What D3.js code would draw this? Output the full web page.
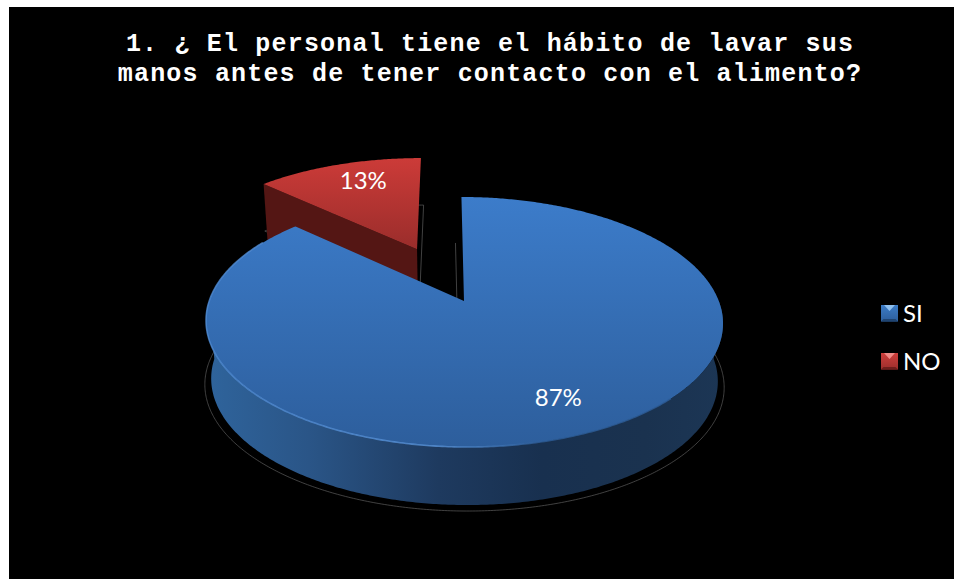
<!DOCTYPE html>
<html>
<head>
<meta charset="utf-8">
<script src="https://cdn.jsdelivr.net/npm/d3@7"></script>
<style>
html,body{margin:0;padding:0;background:#fff;}
svg{display:block;}
</style>
</head>
<body>
<svg id="chart" width="954" height="579"></svg>
<script>
// Survey answers
const categories = ["SI", "NO"];
const shares = [87, 13];
const titleLines = [
  "1. ¿ El personal tiene el hábito de lavar sus",
  "manos antes de tener contacto con el alimento?"
];

const svg = d3.select("#chart");
const defs = svg.append("defs");

function linear(id, x1, y1, x2, y2, stops) {
  const g = defs.append("linearGradient").attr("id", id)
    .attr("x1", x1).attr("y1", y1).attr("x2", x2).attr("y2", y2);
  stops.forEach(([o, c]) => g.append("stop").attr("offset", o).attr("stop-color", c));
}
linear("blueTop", 0, 0, 0, 1, [[0, "#3c7cca"], [1, "#2d5e9c"]]);
linear("redTop", 0, 0, 0, 1, [[0, "#cc3b38"], [1, "#9a2d2b"]]);
linear("blueSide", 0, 0, 1, 0, [[0, "#2f649c"], [0.2, "#2a5587"], [0.45, "#1e3a5f"], [0.65, "#18304f"], [0.85, "#1a324f"], [1, "#1c3655"]]);
linear("blueRim", 0, 0, 1, 0, [[0, "#4f8ad2"], [0.5, "#5a94da"], [0.72, "#2e5f9b"], [1, "#2e5f9b"]]);
linear("legendBlue", 0, 0, 0, 1, [[0, "#3c7cc6"], [1, "#2d5e9c"]]);
linear("legendRed", 0, 0, 0, 1, [[0, "#cf3f3c"], [1, "#9c2e2c"]]);
const soft = defs.append("filter").attr("id", "softRim");
soft.append("feGaussianBlur").attr("stdDeviation", 0.6);

// Black plate behind the chart
svg.append("rect").attr("x", 9).attr("y", 7).attr("width", 945).attr("height", 572).attr("fill", "#000");

// Tilted-disc projection: unit-circle coordinates to screen, nearer points larger
const apex = { x: 464, y: 301 };
const tilt = 0.168, xScale = 254.8, yScale = 121.5, lean = 3, depth = 58, baseScale = 0.98;
function project(u, v, h = 0) {
  const d = 1 - tilt * v;
  const x = (xScale * u + lean * v) / d;
  return [apex.x + (h ? baseScale : 1) * x, apex.y + h + yScale * v / d];
}

const pie = d3.pie().sort(null).value(d => d).startAngle(0).endAngle(2 * Math.PI);
const arcs = pie(shares);

const lineGen = d3.line();
function rimPoints(a0, a1, h, off = [0, 0]) {
  const n = Math.max(2, Math.ceil(Math.abs(a1 - a0) / 0.01));
  return d3.range(n + 1).map(i => {
    const a = a0 + (a1 - a0) * i / n;
    return project(off[0] + Math.sin(a), off[1] - Math.cos(a), h);
  });
}
function wedgePoints(a0, a1, h, off = [0, 0]) {
  return [project(off[0], off[1], h), ...rimPoints(a0, a1, h, off)];
}

const blue = arcs[0], red = arcs[1];
const redMid = (red.startAngle + red.endAngle) / 2;
const explode = 0.48;
const redOff = [explode * Math.sin(redMid), -explode * Math.cos(redMid)];

// Faint drop-shadow contours around the base
const contour = svg.append("g").attr("fill", "none").attr("stroke", "#5c5c5c").attr("stroke-width", 0.7);
contour.append("path")
  .attr("d", lineGen(wedgePoints(red.startAngle, red.endAngle, 45, redOff)) + "Z")
  .attr("transform", "translate(344,0) scale(1.03,1) translate(-345,0)");
contour.append("path")
  .attr("d", lineGen([project(0, -1, 46), project(0, 0, 46)]))
  .attr("transform", "translate(-6,0)");
contour.append("path")
  .attr("transform", "translate(464,0) scale(1.025,1.0) translate(-464,0)")
  .attr("d", lineGen(rimPoints(Math.PI * 0.42, Math.PI * 1.58, 64)));

// NO slice, pulled away from the disc
const red3d = svg.append("g").attr("transform", "translate(-0.5,-2)");
red3d.append("path")
  .attr("d", lineGen([
    project(redOff[0] + Math.sin(red.startAngle), redOff[1] - Math.cos(red.startAngle), 0),
    project(redOff[0], redOff[1], 0),
    project(redOff[0], redOff[1], depth),
    project(redOff[0] + Math.sin(red.startAngle), redOff[1] - Math.cos(red.startAngle), depth)
  ]) + "Z")
  .attr("fill", "#541614");
red3d.append("path")
  .attr("d", lineGen(wedgePoints(red.startAngle, red.endAngle, 0, redOff)) + "Z")
  .attr("fill", "url(#redTop)");

// SI slice: outer wall, then top surface with a lit rim
const leftA = 1.5 * Math.PI, rightA = 0.5 * Math.PI;
const wallTop = rimPoints(rightA, leftA, 0);
const wallBottom = rimPoints(leftA, rightA, depth);
svg.append("path")
  .attr("d", lineGen([...wallTop, ...wallBottom]) + "Z")
  .attr("fill", "url(#blueSide)");
svg.append("path")
  .attr("d", lineGen(wedgePoints(blue.startAngle, blue.endAngle, 0)) + "Z")
  .attr("fill", "url(#blueTop)");
svg.append("path")
  .attr("d", lineGen(rimPoints(Math.PI * 0.75, leftA + 0.55, 0)))
  .attr("fill", "none").attr("stroke", "url(#blueRim)").attr("stroke-width", 1.6)
  .attr("opacity", 0.8).attr("filter", "url(#softRim)");

// Percentage labels
const labelFont = "Lato, 'Open Sans', sans-serif";
const pctLabels = svg.append("g").attr("fill", "#fff").attr("font-family", labelFont)
  .attr("font-size", 24).attr("text-anchor", "middle");
const labelSpots = [[0.318, 0.704], [-0.46, -1.184]];
arcs.forEach((a, i) => {
  const [x, y] = project(labelSpots[i][0], labelSpots[i][1]);
  pctLabels.append("text").attr("x", x).attr("y", y).attr("dy", "0.35em").text(a.data + "%");
});

// Legend
const legendY = d3.scalePoint().domain(categories).range([313, 361]);
const swatchFill = { SI: ["url(#legendBlue)", "#8fc0ee", "#1f4471"], NO: ["url(#legendRed)", "#f08a86", "#6e1e1c"] };
const legend = svg.append("g").selectAll("g").data(categories).join("g")
  .attr("transform", d => `translate(881,${legendY(d)})`);
legend.append("rect").attr("x", 0).attr("y", -8).attr("width", 17).attr("height", 16.5)
  .attr("fill", d => swatchFill[d][0]);
legend.append("path").attr("d", "M3,-8L14,-8L8.5,-2Z").attr("fill", d => swatchFill[d][1]);
legend.append("path").attr("d", "M0,8.5L17,8.5L14.5,6L2.5,6Z").attr("fill", d => swatchFill[d][2]);
legend.append("text").attr("x", 22).attr("dy", "0.36em").attr("fill", "#fff")
  .attr("font-family", labelFont).attr("font-size", 24).text(d => d);

// Title
svg.append("g").selectAll("text").data(titleLines).join("text")
  .attr("x", 490).attr("y", (d, i) => 51 + i * 30)
  .attr("text-anchor", "middle").attr("fill", "#fff")
  .attr("font-family", "'Liberation Mono', monospace").attr("font-weight", "bold")
  .attr("font-size", 25).attr("letter-spacing", 1.18).text(d => d);
</script>
</body>
</html>
